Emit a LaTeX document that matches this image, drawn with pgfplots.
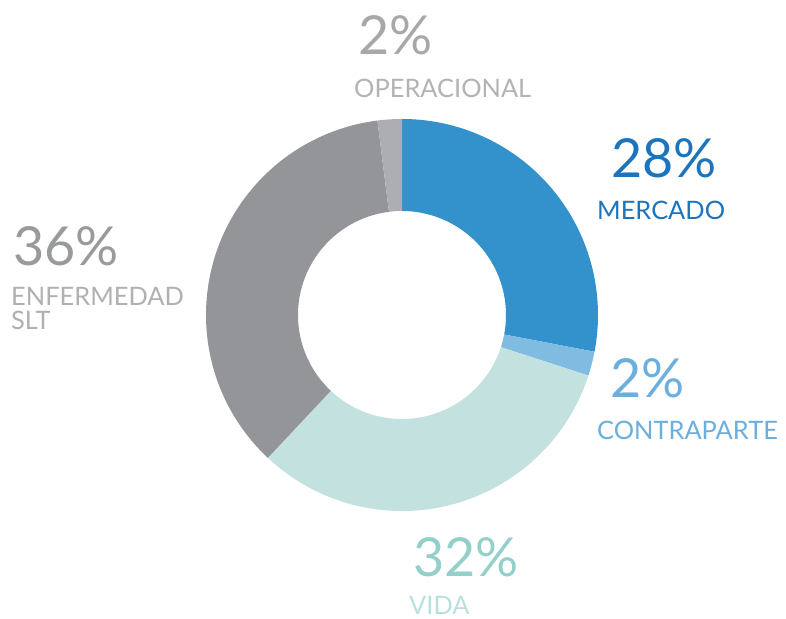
\documentclass[border=0pt]{standalone}
\usepackage{fontspec}
\setmainfont{Lato}
\usepackage{pgfplots}
\pgfplotsset{compat=1.18}
\usetikzlibrary{calc}

\definecolor{cMerc}{HTML}{3391CC}
\definecolor{cContra}{HTML}{80BCE1}
\definecolor{cVida}{HTML}{C3E2DF}
\definecolor{cEnf}{HTML}{939598}
\definecolor{cOper}{HTML}{ADAEB1}
\definecolor{tMerc}{HTML}{1C75BC}
\definecolor{tContra}{HTML}{6AAFDD}
\definecolor{tVidaP}{HTML}{92D0C9}
\definecolor{tVida}{HTML}{B8E0DC}
\definecolor{tEnfP}{HTML}{999A9C}
\definecolor{tEnf}{HTML}{B0B0B0}
\definecolor{tOperP}{HTML}{A8A8A8}
\definecolor{tOper}{HTML}{B3B3B3}

% ring segment: #1 = share before it (%), #2 = its share (%), #3 = colour
\newcommand{\seg}[3]{%
  \fill[#3] ($(axis cs:402,304)+({90-3.6*#1}:196bp)$)
    arc[start angle={90-3.6*#1}, delta angle={-3.6*#2}, radius=196bp]
    -- ($(axis cs:402,304)+({90-3.6*(#1+#2)}:104bp)$)
    arc[start angle={90-3.6*(#1+#2)}, delta angle={3.6*#2}, radius=104bp]
    -- cycle;}

\newcommand{\pct}[1]{\fontsize{54}{58}\selectfont #1}
\newcommand{\lbl}[1]{\fontsize{25.5}{24}\selectfont #1}

\begin{document}
\begin{tikzpicture}
\begin{axis}[hide axis, x=1bp, y=1bp, xmin=0, xmax=786, ymin=0, ymax=619,
    scale only axis, clip=false]
\path (axis cs:0,0) rectangle (axis cs:786,619);
\seg{0}{28}{cMerc}
\seg{28}{2}{cContra}
\seg{30}{32}{cVida}
\seg{62}{36}{cEnf}
\seg{98}{2}{cOper}

\node[anchor=base west, inner sep=0, text=tOperP] at (axis cs:358,564) {\pct{2\%}};
\node[anchor=base west, inner sep=0, text=tOper] at (axis cs:354,521) {\lbl{OPERACIONAL}};
\node[anchor=base west, inner sep=0, text=tMerc] at (axis cs:611,441) {\pct{28\%}};
\node[anchor=base west, inner sep=0, text=tMerc] at (axis cs:597,399) {\lbl{MERCADO}};
\node[anchor=base west, inner sep=0, text=tContra] at (axis cs:610,221) {\pct{2\%}};
\node[anchor=base west, inner sep=0, text=tContra] at (axis cs:597,179) {\lbl{CONTRAPARTE}};
\node[anchor=base west, inner sep=0, text=tVidaP] at (axis cs:413,42) {\pct{32\%}};
\node[anchor=base west, inner sep=0, text=tVida] at (axis cs:409,4) {\lbl{VIDA}};
\node[anchor=base west, inner sep=0, text=tEnfP] at (axis cs:13,353) {\pct{36\%}};
\node[anchor=base west, inner sep=0, text=tEnf] at (axis cs:11,313) {\lbl{ENFERMEDAD}};
\node[anchor=base west, inner sep=0, text=tEnf] at (axis cs:11,289) {\lbl{SLT}};
\end{axis}
\end{tikzpicture}
\end{document}
